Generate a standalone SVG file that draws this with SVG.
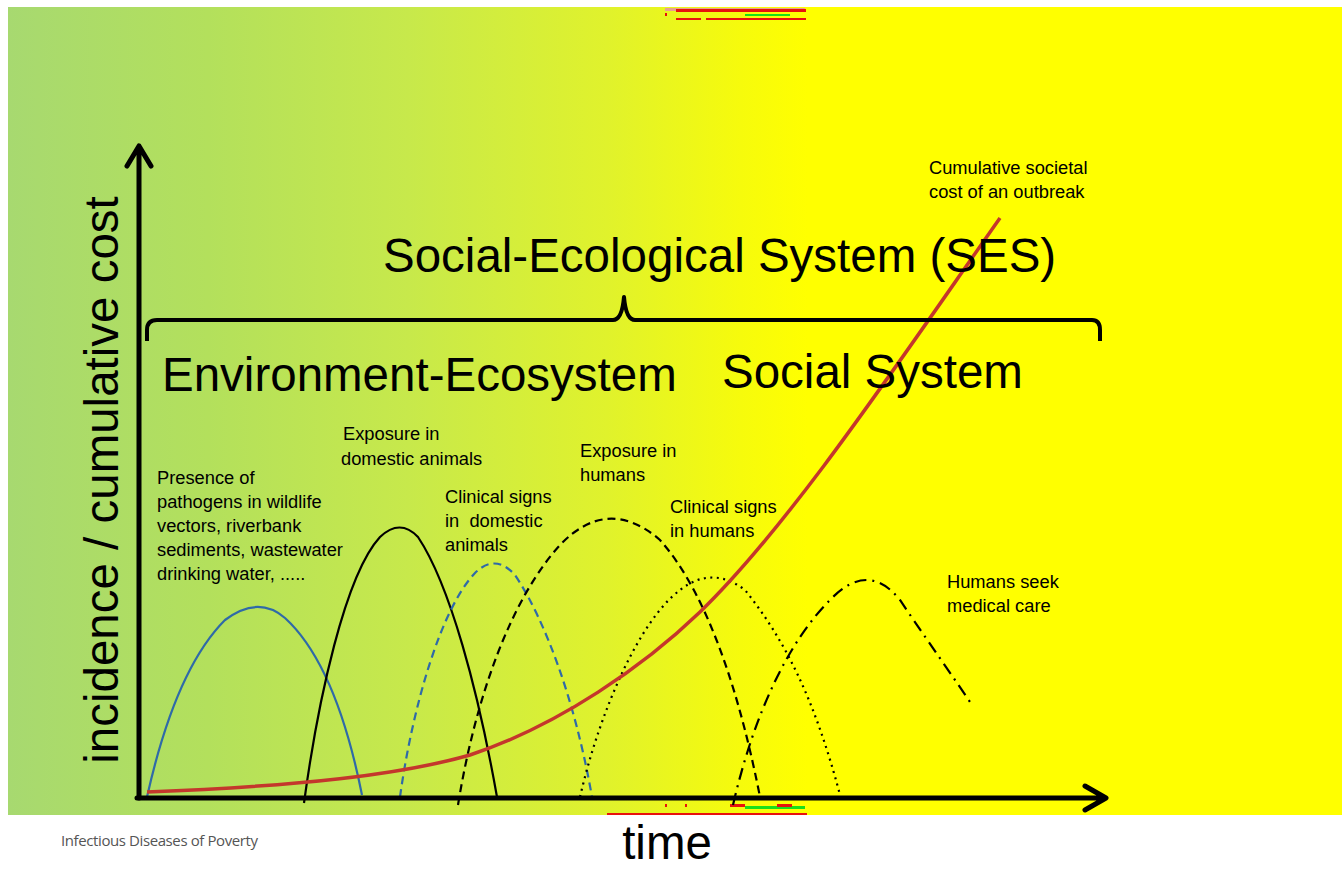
<svg xmlns="http://www.w3.org/2000/svg" width="1342" height="869" viewBox="0 0 1342 869">
<defs>
<linearGradient id="bg" gradientUnits="userSpaceOnUse" x1="8" y1="0" x2="1340" y2="0">
<stop offset="0" stop-color="#a7d970"/>
<stop offset="0.15" stop-color="#b3e05c"/>
<stop offset="0.3" stop-color="#c7e94b"/>
<stop offset="0.45" stop-color="#e0f22c"/>
<stop offset="0.55" stop-color="#f6fb0c"/>
<stop offset="0.6" stop-color="#ffff00"/>
<stop offset="1" stop-color="#ffff00"/>
</linearGradient>
<style>
.big{font-family:"Liberation Sans",Arial,sans-serif;font-size:47.5px;fill:#000}
.lbl{font-family:"Liberation Sans",Arial,sans-serif;font-size:18.3px;fill:#000}
.ax{stroke:#000;stroke-width:5;fill:none;stroke-linecap:round;stroke-linejoin:round}
.c{fill:none;stroke-width:2.2}
</style>
</defs>
<rect width="1342" height="869" fill="#fff"/>
<rect x="8" y="7" width="1334" height="808" fill="url(#bg)"/>
<g id="artifacts" fill="#e8120c">
<rect x="665" y="8" width="140" height="3" fill="#e8a090"/>
<rect x="676" y="9" width="130" height="3"/>
<rect x="665" y="13" width="2" height="3"/>
<rect x="676" y="18" width="25" height="2"/>
<rect x="706" y="18" width="70" height="2"/>
<rect x="776" y="18" width="30" height="2"/>
<rect x="745" y="14" width="45" height="2" fill="#19e019"/>
<rect x="730" y="804" width="15" height="3"/>
<rect x="745" y="806" width="60" height="3" fill="#19e019"/>
<rect x="777" y="804" width="15" height="3"/>
<rect x="607" y="813" width="200" height="2"/>
<rect x="665" y="804" width="2" height="3"/>
<rect x="685" y="804" width="2" height="3"/>
</g>
<g id="connectors">
<path class="c" stroke="#2f6aa8" d="M147,797 C162,730 185,660 225,620 Q258,595 285,618 C320,650 345,710 362,795"/>
<path class="c" stroke="#000" d="M304,803 C318,700 345,575 380,537 Q400,518 418,537 C450,585 478,690 497,797"/>
<path class="c" stroke="#2f6aa8" stroke-dasharray="8,5" d="M400,797 C412,710 440,610 475,573 Q495,553 515,575 C545,620 575,700 592,797"/>
<path class="c" stroke="#000" stroke-dasharray="8,5" d="M458,805 C475,700 510,600 560,545 Q608,495 660,540 C700,585 735,670 760,797"/>
<path class="c" stroke="#000" stroke-width="2.5" stroke-dasharray="2,4.5" d="M580,797 C600,710 640,620 680,590 Q712,565 745,590 C785,640 815,700 840,795"/>
<path class="c" stroke="#000" stroke-dasharray="12,6,2,6" d="M733,805 C755,710 790,640 830,600 Q868,560 900,600 C920,630 945,665 970,702"/>
<path fill="none" stroke="#c4372c" stroke-width="3.5" d="M147,792 C300,786 400,775 470,755 C560,725 645,665 700,612 C790,525 900,360 1000,218"/>
<path class="ax" d="M139,798 V148 M127,166 L139,146 L151,166"/>
<path class="ax" d="M137,798 H1104 M1085,786 L1106,798 L1085,810"/>
<path fill="none" stroke="#000" stroke-width="4" stroke-linejoin="round" d="M147,341 V330 Q147,320 157,320 H613 Q622,320 624,297 Q626,320 635,320 H1092 Q1100,320 1100,330 V341"/>
</g>
<g id="titles">
<text class="big" x="383" y="272">Social-Ecological System (SES)</text>
<text class="big" x="162" y="391">Environment-Ecosystem</text>
<text class="big" x="722" y="388">Social System</text>
<text class="big" x="667" y="859" text-anchor="middle">time</text>
<text class="big" transform="translate(118,480) rotate(-90)" text-anchor="middle">incidence / cumulative cost</text>
</g>
<g id="labels">
<text class="lbl" x="929" y="174">Cumulative societal</text>
<text class="lbl" x="929" y="198">cost of an outbreak</text>
<text class="lbl" x="343" y="440">Exposure in</text>
<text class="lbl" x="341" y="465">domestic animals</text>
<text class="lbl" x="157" y="484">Presence of</text>
<text class="lbl" x="157" y="508">pathogens in wildlife</text>
<text class="lbl" x="157" y="532">vectors, riverbank</text>
<text class="lbl" x="157" y="556">sediments, wastewater</text>
<text class="lbl" x="157" y="580">drinking water, .....</text>
<text class="lbl" x="445" y="503">Clinical signs</text>
<text class="lbl" x="445" y="527" xml:space="preserve">in  domestic</text>
<text class="lbl" x="445" y="551">animals</text>
<text class="lbl" x="580" y="457">Exposure in</text>
<text class="lbl" x="580" y="481">humans</text>
<text class="lbl" x="670" y="513">Clinical signs</text>
<text class="lbl" x="670" y="537">in humans</text>
<text class="lbl" x="947" y="588">Humans seek</text>
<text class="lbl" x="947" y="612">medical care</text>
<text x="61" y="846" font-family="'Open Sans','Liberation Sans',sans-serif" font-size="15" fill="#555" letter-spacing="-0.4">Infectious Diseases of Poverty</text>
</g>
</svg>
